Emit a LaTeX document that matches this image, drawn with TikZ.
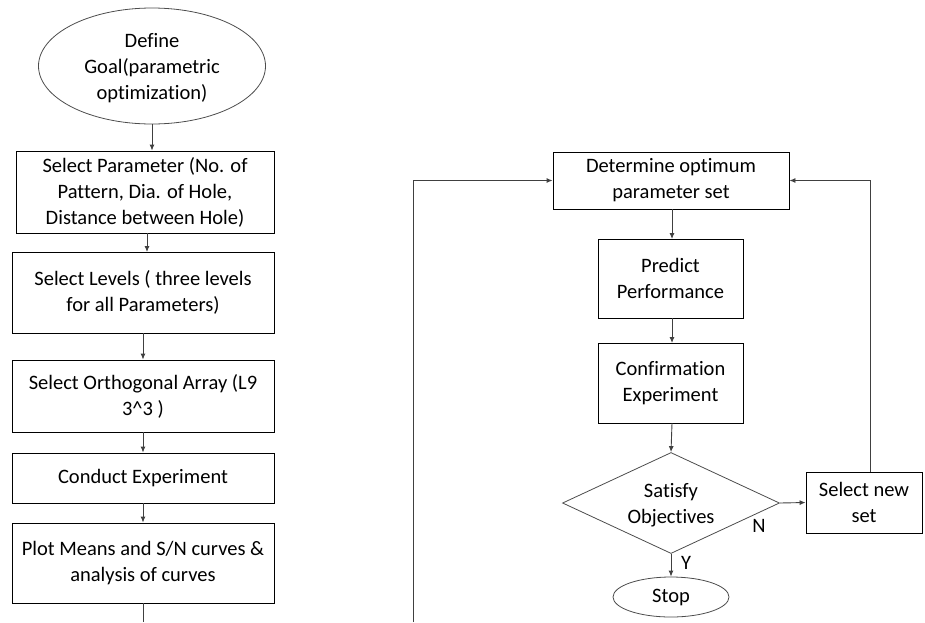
\documentclass[tikz,border=0pt]{standalone}
\usepackage{fontspec}
\setmainfont[Ligatures=NoCommon]{Carlito}
\usetikzlibrary{shapes.geometric,arrows.meta}
\begin{document}
\begin{tikzpicture}[x=1pt,y=-1pt,
  every node/.style={font=\fontsize{20.5}{26}\selectfont, align=center, inner sep=0pt},
  box/.style={draw=black, line width=0.9pt, rectangle},
  oval/.style={draw=black!70, line width=0.8pt, ellipse},
  dia/.style={draw=black!70, line width=0.8pt, diamond},
  conn/.style={draw=black!75, line width=0.9pt, -{Latex[length=6pt,width=5pt]}},
  plain/.style={draw=black!75, line width=0.9pt}]
\useasboundingbox (0,0) rectangle (925,622);
% left column
\node[oval, minimum width=227pt, minimum height=116pt] (goal) at (152,66) {};
\node (goaltext) at (152,68) {Define\\Goal(parametric\\optimization)};
\node[box, minimum width=258pt, minimum height=82pt] (b1) at (145,192) {Select Parameter (No. of\\Pattern, Dia. of Hole,\\Distance between Hole)};
\node[box, minimum width=262pt, minimum height=81pt] (b2) at (143,292.5) {Select Levels ( three levels\\for all Parameters)};
\node[box, minimum width=262pt, minimum height=72pt] (b3) at (143,396) {Select Orthogonal Array (L9\\3\^{}3 )};
\node[box, minimum width=262pt, minimum height=50pt] (b4) at (143,478) {Conduct Experiment};
\node[box, minimum width=262pt, minimum height=80pt] (b5) at (143,563) {Plot Means and S/N curves \&\\analysis of curves};
\coordinate (lend) at (143,622);
\draw[conn] (goal.south) -- (goal.south |- b1.north);
\draw[conn] (147,233) -- (147,252);
\draw[conn] (b2.south) -- (b3.north);
\draw[conn] (b3.south) -- (b4.north);
\draw[conn] (b4.south) -- (b5.north);
\draw[plain] (b5.south) -- (lend);
% right column
\node[box, minimum width=236pt, minimum height=57pt] (det) at (671,180.5) {Determine optimum\\parameter set};
\node[box, minimum width=145pt, minimum height=79pt] (pred) at (670.5,278.5) {Predict\\Performance};
\node[box, minimum width=145pt, minimum height=80pt] (conf) at (670.5,383) {Confirmation\\Experiment};
\node[dia, minimum width=217pt, minimum height=101pt] (sat) at (671,503) {};
\node (sattext) at (671,505) {Satisfy\\Objectives};
\node[box, minimum width=116pt, minimum height=61pt] (sel) at (864,502.5) {Select new\\set};
\node[oval, minimum width=116pt, minimum height=40pt] (stop) at (671,597) {Stop};
\node (nlab) at (759,526) {N};
\node (ylab) at (686,563) {Y};
\coordinate (lstart) at (413,622);
\coordinate (lcorner) at (413,180.5);
\coordinate (rcorner) at (870,180.5);
\draw[conn] (672,209) -- (672,239);
\draw[conn] (672,318) -- (672,343);
\draw[conn] (672,423) -- (sat.north);
\draw[conn] (sat.east) -- (sel.west);
\draw[conn] (sat.south) -- (stop.north);
\draw[conn] (lstart) -- (lcorner) -- (det.west);
\draw[conn] (sel.north -| rcorner) -- (rcorner) -- (det.east);
\end{tikzpicture}
\end{document}
